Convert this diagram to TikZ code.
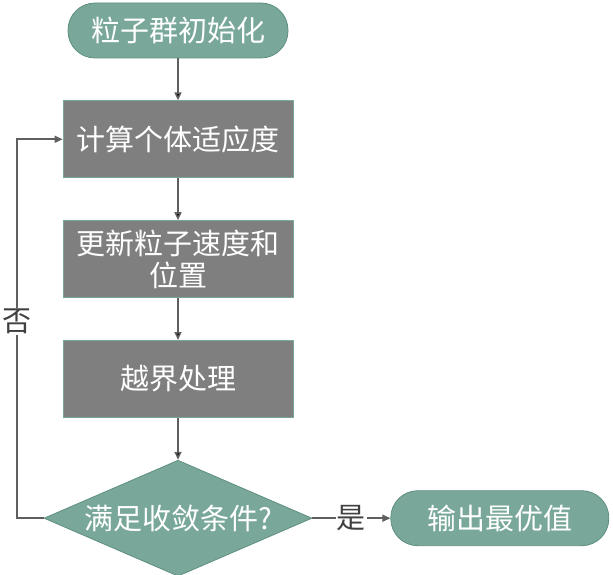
\documentclass[tikz,border=0pt]{standalone}
\usepackage{fontspec}
\newfontfamily\cjk{Noto Sans CJK SC}
\usetikzlibrary{positioning}
\usetikzlibrary{arrows.meta}
\usetikzlibrary{shapes.geometric}
\definecolor{teal}{HTML}{79A89A}
\definecolor{tealline}{HTML}{5E8F80}
\definecolor{boxgray}{HTML}{7F7F7F}
\definecolor{linegray}{HTML}{5F5F5F}

\begin{document}
\begin{tikzpicture}[x=1pt,y=-1pt,node distance=42pt,
  every node/.style={font=\cjk\fontsize{29}{32}\selectfont},
  terminal/.style={draw=tealline,line width=0.8pt,fill=teal,text=white,rounded corners=27pt,minimum width=220pt,minimum height=55pt},
  process/.style={draw=teal,line width=0.8pt,fill=boxgray,text=white,minimum width=230pt,minimum height=77pt,align=center},
  decision/.style={diamond,draw=tealline,line width=0.8pt,fill=teal,text=white,aspect=2.3,inner sep=0pt,minimum width=268pt,minimum height=116pt},
  arr/.style={draw=linegray,line width=1.6pt,-{Triangle[length=8pt,width=7pt]}},
  lbl/.style={fill=white,text=black!75,inner sep=1pt}]
\useasboundingbox (0,0) rectangle (613,575);
\node[terminal] (init) at (178,30.5) {粒子群初始化};
\node[process] (fit) [below=of init] {计算个体适应度};
\node[process] (upd) [below=of fit] {更新粒子速度和\\位置};
\node[process] (bnd) [below=of upd] {越界处理};
\node[decision] (conv) [below=of bnd] {满足收敛条件?};
\node[terminal,minimum width=218pt] (out) [right=78pt of conv] {输出最优值};
\coordinate (back) at (17,0);
\path[arr]
    (init) edge (fit)
    (fit) edge (upd)
    (upd) edge (bnd)
    (bnd) edge (conv)
;
\draw[arr] (conv.east) -- node[lbl] {是} (out.west);
\draw[arr] (conv.west) -- (conv.west -| back) |- node[lbl,pos=0.26] {否} (fit.west);
\end{tikzpicture}
\end{document}
